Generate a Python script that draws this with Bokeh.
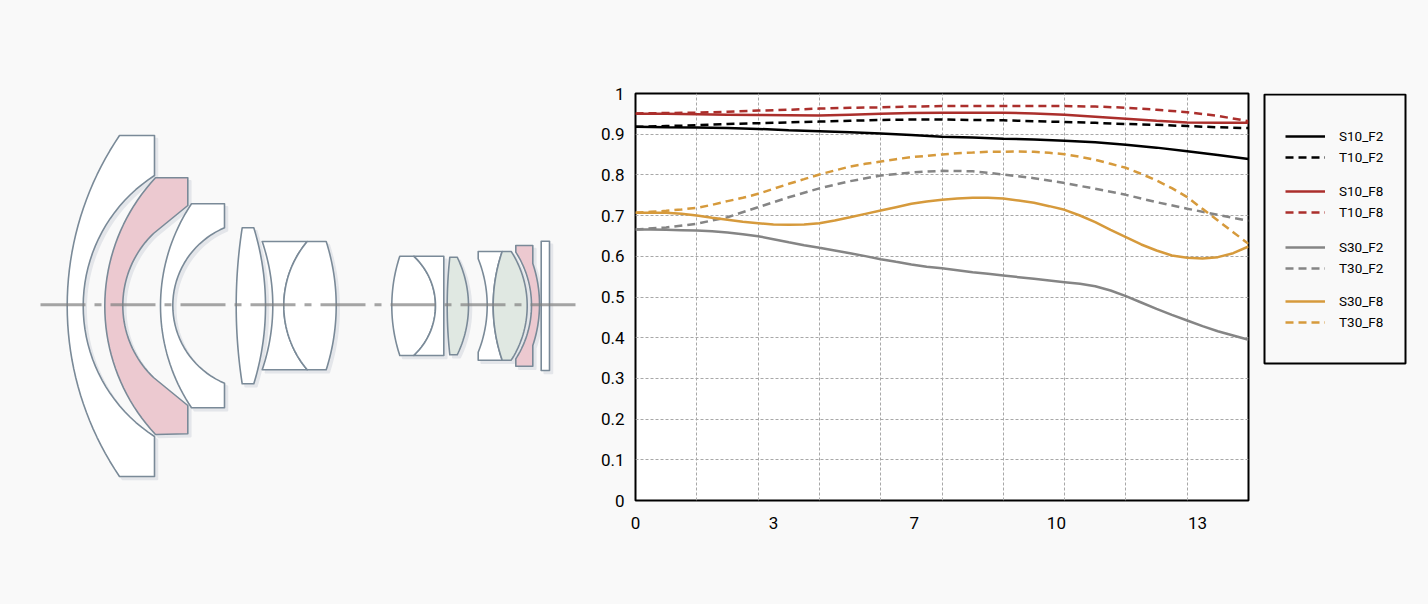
import math

from bokeh.embed import file_html
from bokeh.layouts import row
from bokeh.models import (
    BoxAnnotation,
    FixedTicker,
    GlobalInlineStyleSheet,
    Legend,
    LegendItem,
    Range1d,
)
from bokeh.plotting import figure
from bokeh.resources import INLINE

PAGE_BG = "#f9f9f9"
FONT = "Roboto"
TOP_BORDER = 93
BOTTOM_BORDER = 104

# MTF curves: half grid steps, quarter steps for the wavy ones
field = [0, 0.71, 1.42, 2.13, 2.84, 3.55, 4.26, 4.97, 5.68, 6.39, 7.1,
         7.81, 8.52, 9.23, 9.94, 10.65, 11.36, 12.07, 12.78, 13.49, 14.2]
field_fine = [0, .355, .71, 1.065, 1.42, 1.775, 2.13, 2.485, 2.84, 3.195, 3.55,
              3.905, 4.26, 4.615, 4.97, 5.325, 5.68, 6.035, 6.39, 6.745, 7.1,
              7.455, 7.81, 8.165, 8.52, 8.875, 9.23, 9.585, 9.94, 10.295, 10.65,
              11.005, 11.36, 11.715, 12.07, 12.425, 12.78, 13.135, 13.49, 13.845, 14.2]
s10_f2 = [.918, .917, .9165, .915, .913, .910, .9075, .905, .902, .898, .894,
          .892, .889, .887, .884, .880, .874, .867, .858, .849, .839]
t10_f2 = [.918, .920, .922, .925, .927, .929, .931, .933, .935, .936, .936,
          .935, .934, .932, .930, .928, .925, .923, .920, .917, .915]
s10_f8 = [.950, .950, .949, .948, .947, .9465, .946, .948, .950, .952, .953,
          .953, .953, .951, .948, .943, .938, .933, .929, .928, .928]
t10_f8 = [.951, .952, .953, .955, .958, .960, .963, .965, .966, .968, .969,
          .969, .969, .969, .969, .968, .965, .960, .954, .945, .932]
s30_f2 = [.6658, .6658, .665, .6642, .6634, .6617, .6585, .6544, .6495, .6421, .6347,
          .6274, .6208, .6143, .6077, .6004, .593, .5864, .5799, .5745, .5708,
          .566, .561, .5569, .5528, .5487, .5446, .5405, .5364, .5323, .5266,
          .516, .502, .4865, .4709, .4562, .4423, .4283, .416, .4054, .3948]
t30_f2 = [.666, .6708, .680, .696, .7207, .745, .767, .7846, .7985, .806, .810,
          .809, .801, .792, .780, .766, .751, .733, .717, .702, .687]
s30_f8 = [.7068, .7068, .7068, .7043, .7002, .6945, .6896, .6847, .6814, .6781, .6773,
          .6781, .6814, .6880, .6961, .7043, .7125, .7207, .7289, .7346, .7387,
          .7420, .7437, .7437, .7420, .7371, .7314, .7232, .7142, .7002, .6839,
          .6650, .6470, .6290, .6143, .6020, .5962, .5946, .5979, .6077, .6241]
t30_f8 = [.7068, .7093, .7117, .7150, .7191, .7265, .7355, .7437, .7535, .7658, .7781,
          .7895, .8010, .8108, .8206, .8272, .8329, .8387, .8436, .8468, .8501,
          .8534, .8550, .8567, .8567, .8575, .8567, .8542, .8509, .8444, .8370,
          .8272, .8174, .8026, .7862, .7674, .7453, .7166, .6880, .6593, .6306]

x_ticks = [0, 3.2, 6.46, 9.75, 13.02]
x_tick_labels = ["0", "3", "7", "10", "13"]
x_grid = [1.42, 2.84, 4.26, 5.68, 7.1, 8.52, 9.94, 11.36, 12.78]
y_ticks = [0, .1, .2, .3, .4, .5, .6, .7, .8, .9, 1]
y_tick_labels = ["0", "0.1", "0.2", "0.3", "0.4", "0.5", "0.6", "0.7", "0.8", "0.9", "1"]

BLACK = "#000000"
RED = "#ab2f2c"
GREY = "#858585"
ORANGE = "#d69a3c"
DASH = [8, 5]

# name, x, values, colour, dashed; one inner list per legend group
groups = [
    [("S10_F2", field, s10_f2, BLACK, False), ("T10_F2", field, t10_f2, BLACK, True)],
    [("S10_F8", field, s10_f8, RED, False), ("T10_F8", field, t10_f8, RED, True)],
    [("S30_F2", field_fine, s30_f2, GREY, False), ("T30_F2", field, t30_f2, GREY, True)],
    [("S30_F8", field_fine, s30_f8, ORANGE, False), ("T30_F8", field_fine, t30_f8, ORANGE, True)],
]
# bottom of each legend group, pixels above the frame's bottom edge
group_bottoms = [333, 278, 222, 168]

# Lens diagram, page pixels. A 2-tuple is a corner, a 3-tuple ("arc") is a
# point the outline curves through on its way to the next corner.
WHITE = "#ffffff"
PINK = "#ecc9d0"
GREEN = "#e0e8e2"
lenses = [
    ([(119, 135), (154, 135), (154, 175), (82.7, 304.3, "arc"), (154, 436), (154, 476),
      (119, 476), (66.7, 304.3, "arc")], WHITE),
    ([(155, 177.3), (187.3, 177.3), (187.3, 205), (153, 233), (122.3, 304.3, "arc"),
      (153, 377), (187.3, 405), (187.3, 433.3), (155, 434), (104.3, 304.3, "arc")], PINK),
    ([(191, 203.3), (224, 203.3), (224, 227.3), (172.3, 304.3, "arc"), (224, 382.7),
      (224, 407.3), (191, 407.3), (160, 304.3, "arc")], WHITE),
    ([(241.7, 227.3), (253.3, 227.3), (265, 304.3, "arc"), (253.3, 383.3), (241.7, 383.3),
      (235.7, 304.3, "arc")], WHITE),
    ([(261.7, 241), (306.7, 241), (283.3, 304.3, "arc"), (306.7, 369.3), (261.7, 369.3),
      (272.3, 304.3, "arc")], WHITE),
    ([(306.7, 241), (325.7, 241), (335.7, 304.3, "arc"), (325.7, 369.3), (306.7, 369.3),
      (283.3, 304.3, "arc")], WHITE),
    ([(399.3, 255.7), (413.3, 255.7), (435, 304.3, "arc"), (413.3, 355), (399.3, 355),
      (391.3, 304.3, "arc")], WHITE),
    ([(413.3, 255.7), (443.3, 255.7), (443.3, 355), (413.3, 355), (435, 304.3, "arc")], WHITE),
    ([(449.3, 256.7), (456.7, 256.7), (468, 304.3, "arc"), (456.7, 354.3), (449.3, 354.3),
      (446.7, 304.3, "arc")], GREEN),
    ([(477.7, 251), (501.7, 251), (492.7, 304.3, "arc"), (501.7, 359.7), (477.7, 359.7),
      (477.7, 351.7), (486.7, 304.3, "arc"), (477.7, 258.3)], WHITE),
    ([(501.7, 251), (510.7, 251), (526.7, 304.3, "arc"), (510.7, 359.7), (501.7, 359.7),
      (492.7, 304.3, "arc")], GREEN),
    ([(515.3, 245), (532.3, 245), (532.3, 263), (539, 304.3, "arc"), (532.3, 345),
      (532.3, 365.7), (515.3, 365.7), (515.3, 358.3), (531, 304.3, "arc"), (515.3, 251.7)], PINK),
    ([(540.7, 240.7), (549, 240.7), (549, 370), (540.7, 370)], WHITE),
]
axis_x = [40, 575]
axis_y = [304.3, 304.3]


def arc_points(a, m, b, n=40):
    """Points of the circle through a, m and b, going from a to b."""
    ax, ay = a[0], a[1]
    mx, my = m[0], m[1]
    bx, by = b[0], b[1]
    d = 2 * (ax * (my - by) + mx * (by - ay) + bx * (ay - my))
    ux = ((ax**2 + ay**2) * (my - by) + (mx**2 + my**2) * (by - ay) + (bx**2 + by**2) * (ay - my)) / d
    uy = ((ax**2 + ay**2) * (bx - mx) + (mx**2 + my**2) * (ax - bx) + (bx**2 + by**2) * (mx - ax)) / d
    r = math.hypot(ax - ux, ay - uy)
    t0 = math.atan2(ay - uy, ax - ux)
    tm = math.atan2(my - uy, mx - ux)
    t1 = math.atan2(by - uy, bx - ux)
    # unwrap so that the sweep goes through the middle point
    while tm < t0:
        tm += 2 * math.pi
    while t1 < t0:
        t1 += 2 * math.pi
    if tm > t1:
        t1 -= 2 * math.pi
    return [
        (ux + r * math.cos(t0 + (t1 - t0) * i / n), uy + r * math.sin(t0 + (t1 - t0) * i / n))
        for i in range(1, n)
    ]


def trace(outline):
    points = []
    for i, pt in enumerate(outline):
        if len(pt) == 3:
            prev = outline[i - 1]
            nxt = outline[(i + 1) % len(outline)]
            points.extend(arc_points(prev, pt, nxt))
        else:
            points.append(pt)
    return [pt[0] for pt in points], [pt[1] for pt in points]


def lens_figure():
    # a row lines up the frames of its figures, so all three keep the same borders
    p = figure(
        width=588,
        height=604,
        x_range=Range1d(0, 588),
        y_range=Range1d(500, 93),
        output_backend="svg",
        toolbar_location=None,
        min_border_left=0,
        min_border_right=0,
        min_border_top=TOP_BORDER,
        min_border_bottom=BOTTOM_BORDER,
        background_fill_color=PAGE_BG,
        border_fill_color=PAGE_BG,
        outline_line_color=None,
        stylesheets=[GlobalInlineStyleSheet(css=f"html, body {{ background: {PAGE_BG}; }}")],
    )
    p.axis.visible = False
    p.grid.visible = False

    outlines = [trace(outline) for outline, _ in lenses]
    xs = [o[0] for o in outlines]
    ys = [o[1] for o in outlines]
    fills = [fill for _, fill in lenses]
    # soft offset shadow under the elements
    p.patches(
        [[x + 3 for x in o] for o in xs],
        [[y + 3 for y in o] for o in ys],
        fill_color="#e4e6ea",
        line_color="#e4e6ea",
        line_width=1.5,
    )
    p.patches(xs, ys, fill_color=fills, line_color="#7a8a98", line_width=1.6, line_join="round")
    p.line(axis_x, axis_y, line_color="#808080", line_alpha=0.7, line_width=3, line_dash=[45, 9, 7, 9])
    return p


def mtf_figure():
    p = figure(
        width=668,
        height=604,
        x_range=Range1d(0, 14.2),
        y_range=Range1d(0, 1),
        output_backend="svg",
        toolbar_location=None,
        min_border_left=47,
        min_border_right=8,
        min_border_top=TOP_BORDER,
        min_border_bottom=BOTTOM_BORDER,
        background_fill_color=WHITE,
        border_fill_color=PAGE_BG,
        outline_line_color=BLACK,
        outline_line_width=2,
    )
    p.xaxis.ticker = FixedTicker(ticks=x_ticks)
    p.xaxis.major_label_overrides = dict(zip(x_ticks, x_tick_labels))
    p.yaxis.ticker = FixedTicker(ticks=y_ticks)
    p.yaxis.major_label_overrides = dict(zip(y_ticks, y_tick_labels))
    p.axis.axis_line_color = None
    p.axis.major_tick_line_color = None
    p.axis.minor_tick_line_color = None
    p.axis.major_tick_out = 0
    p.axis.major_label_text_font = FONT
    p.axis.major_label_text_font_size = "17px"
    p.axis.major_label_text_color = BLACK
    p.xaxis.major_label_standoff = 16
    p.yaxis.major_label_standoff = 11

    p.xgrid.ticker = FixedTicker(ticks=x_grid)
    p.ygrid.ticker = FixedTicker(ticks=y_ticks)
    p.grid.grid_line_color = "#a8a8a8"
    p.grid.grid_line_dash = [3, 2]
    p.grid.grid_line_width = 1

    for group in groups:
        for _, x, values, color, dashed in group:
            p.line(x, values, line_color=color, line_width=2.5, line_dash=DASH if dashed else "solid")
    return p


def legend_figure():
    # legends get clipped to their figure's frame, so the key lives in its own figure
    p = figure(
        width=172,
        height=604,
        x_range=Range1d(1260, 1410),
        y_range=Range1d(500, 93),
        output_backend="svg",
        toolbar_location=None,
        min_border_left=4,
        min_border_right=18,
        min_border_top=TOP_BORDER,
        min_border_bottom=BOTTOM_BORDER,
        background_fill_color=PAGE_BG,
        border_fill_color=PAGE_BG,
        outline_line_color=None,
    )
    p.axis.visible = False
    p.grid.visible = False

    p.add_layout(
        BoxAnnotation(
            left=1264, right=1405, top=94, bottom=363,
            fill_alpha=0, line_color=BLACK, line_width=2, line_alpha=1,
        )
    )
    for group, bottom in zip(groups, group_bottoms):
        items = []
        for name, x, values, color, dashed in group:
            # the series sit far off this figure's x range, only their keys show
            key = p.line(x, values, line_color=color, line_width=2.5, line_dash=DASH if dashed else "solid")
            items.append(LegendItem(label=name, renderers=[key]))
        p.add_layout(
            Legend(
                items=items,
                location=(1285 - 1260, bottom),
                background_fill_alpha=0,
                border_line_alpha=0,
                margin=0,
                padding=0,
                spacing=1,
                glyph_width=40,
                glyph_height=20,
                label_standoff=14,
                label_text_font=FONT,
                label_text_font_size="13.5px",
                label_text_color=BLACK,
            )
        )
    return p


p = row(lens_figure(), mtf_figure(), legend_figure(), spacing=0)
open("out.html", "w").write(file_html(p, INLINE))
